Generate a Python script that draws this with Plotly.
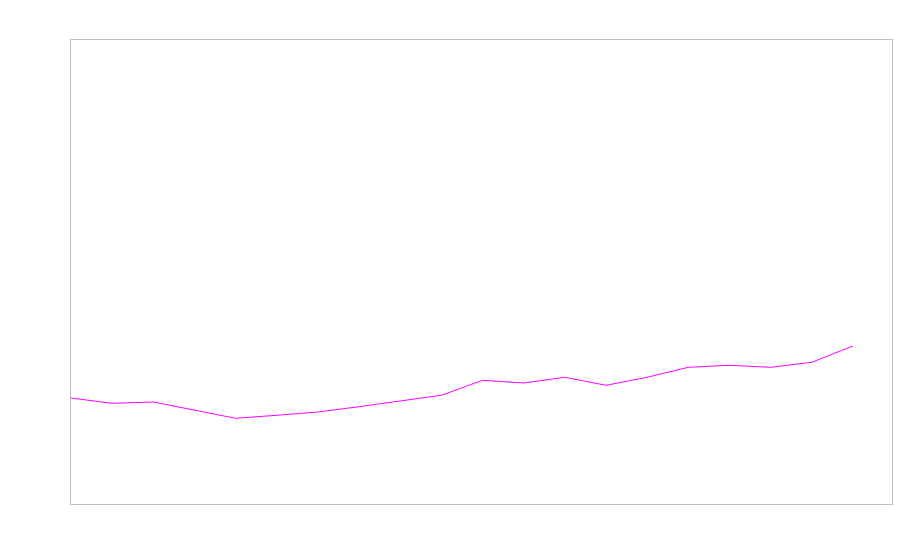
import plotly.graph_objects as go

x_index = list(range(20))
values = [22.84, 21.70, 21.98, 20.26, 18.47, 19.12, 19.83, 20.97, 22.20, 23.43,
          26.66, 26.08, 27.31, 25.58, 27.31, 29.46, 29.89, 29.46, 30.54, 34.05]

fig = go.Figure()
fig.add_trace(go.Scatter(x=x_index, y=values, mode="lines",
                         line=dict(color="#ff00ff", width=1), showlegend=False))

axis_style = dict(showticklabels=False, showgrid=False, zeroline=False,
                  showline=True, mirror=True, linecolor="#c0c0c0", linewidth=1, ticks="")
fig.update_xaxes(range=[0, 19.95], **axis_style)
fig.update_yaxes(range=[0, 100], **axis_style)
fig.update_layout(width=900, height=560, margin=dict(l=71, r=8, t=40, b=56),
                  plot_bgcolor="white", paper_bgcolor="white")
fig.write_html("out.html", config={"displayModeBar": False},
               post_script="document.body.style.margin='0';document.body.style.overflow='hidden';")
